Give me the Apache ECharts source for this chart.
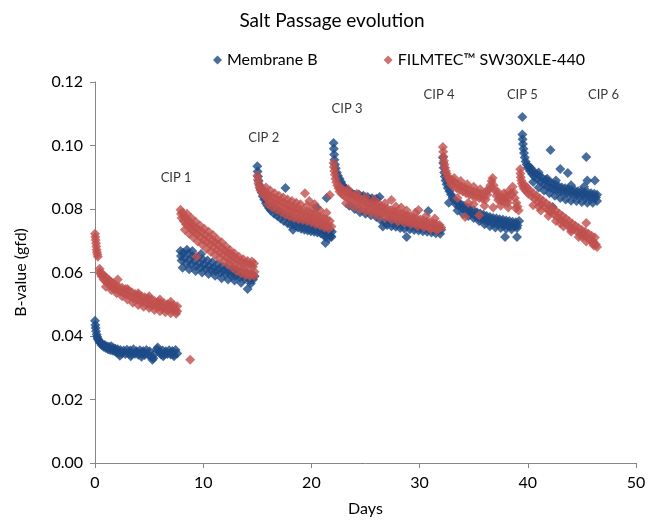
<!DOCTYPE html>
<html>
<head>
<meta charset="utf-8">
<script src="https://cdn.jsdelivr.net/npm/echarts@6/dist/echarts.min.js"></script>
<style>html,body{margin:0;padding:0;background:#fff}#c{width:664px;height:527px}</style>
</head>
<body>
<div id="c"></div>
<script>
const seriesNames = ['Membrane B', 'FILMTEC™ SW30XLE-440'];
const xTicks = [0, 10, 20, 30, 40, 50];
const yTicks = [0, 0.02, 0.04, 0.06, 0.08, 0.10, 0.12];

// Membrane B, one array per run between cleanings: [day, B-value]
const blueRun1 = [[0,0.0448],[0.03,0.0435],[0.06,0.0425],[0.1,0.0415],[0.15,0.0405],[0.2,0.0398],[0.25,0.0392],[0.3,0.0388],[0.4,0.0382],[0.5,0.0378],[0.6,0.0372],[0.7,0.0375],[0.8,0.0366],[0.9,0.0372],[1.0,0.0362],[1.1,0.0368],[1.2,0.0358],[1.3,0.0366],[1.4,0.0356],[1.5,0.0368],[1.6,0.0354],[1.7,0.0362],[1.8,0.0352],[1.9,0.036],[2.0,0.0348],[2.1,0.0358],[2.2,0.0346],[2.35,0.0356],[2.5,0.0345],[2.65,0.0354],[2.8,0.0343],[2.95,0.0357],[3.1,0.0345],[3.25,0.0354],[3.4,0.0342],[3.55,0.0358],[3.7,0.0344],[3.85,0.0352],[4.0,0.0341],[4.15,0.0355],[4.3,0.0343],[4.45,0.0353],[4.6,0.034],[4.75,0.0356],[4.9,0.0342],[5.05,0.0352],[5.2,0.0335],[5.3,0.0325],[5.4,0.033],[5.55,0.0345],[5.7,0.0358],[5.8,0.0364],[5.95,0.0352],[6.1,0.0342],[6.25,0.0354],[6.4,0.0341],[6.55,0.0352],[6.7,0.0343],[6.85,0.0355],[7.0,0.0342],[7.15,0.0353],[7.3,0.0341],[7.45,0.0356],[7.6,0.0345],[2.3,0.0338],[3.3,0.0336],[4.3,0.0335],[6.3,0.0336],[7.3,0.0336]];
const blueRun2 = [[7.9,0.0668],[7.95,0.0652],[8.0,0.0638],[8.15,0.0662],[8.3,0.0645],[8.45,0.0628],[8.6,0.066],[8.75,0.064],[8.9,0.0625],[9.05,0.0652],[9.2,0.0636],[9.35,0.062],[9.5,0.0648],[9.65,0.063],[9.8,0.0616],[9.95,0.0642],[10.1,0.0625],[10.25,0.0612],[10.4,0.0638],[10.55,0.062],[10.7,0.0608],[10.85,0.0632],[11.0,0.0615],[11.15,0.0604],[11.3,0.0626],[11.45,0.061],[11.6,0.06],[11.75,0.062],[11.9,0.0606],[12.05,0.0596],[12.2,0.0615],[12.35,0.0602],[12.5,0.0592],[12.65,0.061],[12.8,0.0598],[12.95,0.0588],[13.1,0.0606],[13.25,0.0594],[13.4,0.0585],[13.55,0.0602],[13.7,0.059],[13.85,0.058],[14.0,0.0598],[14.1,0.0548],[14.15,0.0586],[14.3,0.0575],[14.45,0.0592],[14.6,0.0578],[14.75,0.0588],[8.1,0.0615],[8.7,0.061],[9.3,0.0605],[9.9,0.060],[10.5,0.0595],[11.1,0.059],[11.7,0.0582],[12.3,0.0578],[12.9,0.0575],[13.5,0.0568],[14.4,0.0565],[8.5,0.0672],[9.0,0.0668],[9.8,0.0658]];
const blueRun3 = [[15.0,0.0935],[15.03,0.0918],[15.07,0.0902],[15.12,0.0888],[15.2,0.0875],[15.3,0.0862],[15.4,0.0852],[15.5,0.084],[15.65,0.083],[15.8,0.0818],[15.95,0.081],[16.1,0.0802],[16.25,0.0795],[16.4,0.0808],[16.55,0.0785],[16.7,0.0798],[16.85,0.0778],[17.0,0.0792],[17.15,0.077],[17.3,0.0786],[17.45,0.0762],[17.6,0.0866],[17.65,0.0778],[17.8,0.0755],[17.95,0.0772],[18.1,0.075],[18.25,0.0765],[18.3,0.0735],[18.45,0.0748],[18.6,0.0762],[18.75,0.0742],[18.9,0.0758],[19.05,0.0738],[19.2,0.0755],[19.35,0.0735],[19.5,0.0752],[19.65,0.0732],[19.8,0.075],[19.95,0.073],[20.1,0.0748],[20.25,0.0728],[20.4,0.0745],[20.5,0.0805],[20.55,0.0726],[20.7,0.0742],[20.85,0.0724],[21.0,0.074],[21.1,0.072],[21.2,0.0732],[21.3,0.0693],[21.35,0.0725],[21.4,0.0835],[21.5,0.0738],[21.6,0.072],[21.7,0.0732],[21.8,0.0715],[21.9,0.0728],[21.3,0.0712],[21.6,0.0708],[21.85,0.0712]];
const blueRun4 = [[22.05,0.1008],[22.07,0.099],[22.1,0.0972],[22.13,0.0955],[22.18,0.094],[22.25,0.0928],[22.35,0.0915],[22.45,0.0905],[22.6,0.0895],[22.75,0.0885],[22.9,0.0875],[23.05,0.0868],[23.2,0.0862],[23.4,0.0856],[23.6,0.0852],[23.8,0.0848],[24.0,0.0845],[24.2,0.0842],[24.4,0.0846],[24.6,0.0838],[24.8,0.0842],[25.0,0.0835],[25.2,0.0838],[25.4,0.083],[25.6,0.0834],[25.8,0.0828],[26.0,0.0832],[26.3,0.0838],[23.5,0.081],[24.0,0.080],[24.5,0.079],[25.0,0.0785],[25.5,0.078],[26.0,0.0775],[26.4,0.0765],[26.6,0.0745],[26.8,0.0758],[27.0,0.075],[27.2,0.0762],[27.4,0.0746],[27.6,0.0758],[27.8,0.0744],[28.0,0.0755],[28.2,0.074],[28.4,0.0752],[28.6,0.0738],[28.8,0.0712],[28.9,0.0748],[29.1,0.0736],[29.3,0.075],[29.5,0.0734],[29.7,0.0746],[29.9,0.0732],[30.1,0.0745],[30.3,0.073],[30.5,0.0742],[30.8,0.0794],[30.7,0.0728],[30.9,0.074],[31.1,0.0726],[31.3,0.0738],[31.5,0.0724],[31.7,0.0736],[31.9,0.0722],[32.0,0.0735]];
const blueRun5 = [[32.15,0.0962],[32.18,0.0945],[32.22,0.093],[32.27,0.0915],[32.33,0.0902],[32.4,0.089],[32.5,0.0878],[32.6,0.0866],[32.7,0.082],[32.75,0.0856],[32.9,0.0846],[33.05,0.0836],[33.2,0.0828],[33.35,0.0815],[33.5,0.0822],[33.65,0.0808],[33.8,0.0816],[33.95,0.0802],[34.1,0.081],[34.25,0.0796],[34.4,0.0805],[34.55,0.079],[34.7,0.08],[34.85,0.0785],[35.0,0.0795],[35.15,0.0778],[35.3,0.079],[35.45,0.0772],[35.6,0.0786],[35.75,0.0768],[35.9,0.0782],[36.05,0.0764],[36.2,0.0778],[36.35,0.0762],[36.5,0.0775],[36.65,0.0758],[36.8,0.0772],[36.95,0.0756],[37.1,0.077],[37.25,0.0754],[37.4,0.0768],[37.55,0.0752],[37.7,0.0766],[37.85,0.075],[37.9,0.0712],[38.0,0.0764],[38.15,0.0748],[38.3,0.0762],[38.45,0.0746],[38.6,0.076],[38.75,0.0745],[38.9,0.0758],[39.0,0.0712],[39.05,0.0748],[39.2,0.0762],[33.5,0.0795],[34.0,0.0785],[34.5,0.0778],[35.0,0.0772],[35.5,0.0762],[36.0,0.0752],[36.5,0.0746],[37.0,0.0742],[37.5,0.074],[38.0,0.0738],[38.5,0.0736],[39.0,0.074]];
const blueRun6 = [[39.5,0.109],[39.5,0.1035],[39.52,0.102],[39.55,0.1005],[39.6,0.099],[39.65,0.0976],[39.72,0.0962],[39.8,0.095],[39.9,0.094],[40.0,0.093],[40.1,0.0935],[40.2,0.092],[40.3,0.0928],[40.4,0.091],[40.5,0.0918],[40.6,0.0902],[40.75,0.0912],[40.9,0.0894],[41.05,0.0905],[41.2,0.0886],[41.35,0.0898],[41.5,0.0878],[41.65,0.0892],[41.8,0.0872],[41.95,0.0886],[42.1,0.0986],[42.1,0.0866],[42.25,0.088],[42.3,0.0806],[42.4,0.0862],[42.55,0.0876],[42.7,0.0858],[42.85,0.0872],[43.0,0.0926],[43.0,0.0855],[43.15,0.0868],[43.3,0.0852],[43.45,0.0865],[43.6,0.085],[43.7,0.0913],[43.75,0.0862],[43.9,0.0848],[44.05,0.086],[44.2,0.0845],[44.35,0.0858],[44.5,0.0843],[44.65,0.0856],[44.8,0.0842],[44.95,0.0855],[45.1,0.0724],[45.1,0.084],[45.25,0.0853],[45.4,0.0964],[45.4,0.0838],[45.5,0.089],[45.55,0.0852],[45.7,0.0836],[45.85,0.085],[46.0,0.0835],[46.15,0.0848],[46.2,0.089],[46.3,0.0836],[46.4,0.0845],[40.5,0.0885],[41.0,0.0868],[41.5,0.0858],[42.0,0.085],[42.5,0.0842],[43.0,0.0835],[43.5,0.083],[44.0,0.0826],[44.5,0.0825],[45.0,0.0822],[45.5,0.082],[46.0,0.082],[46.4,0.0825],[41.0,0.0915],[41.8,0.0895],[42.6,0.089],[44.0,0.0875],[45.2,0.087]];

// FILMTEC SW30XLE-440, one array per run: [day, B-value]
const redRun1 = [[0,0.0722],[0.03,0.0712],[0.06,0.0702],[0.09,0.0692],[0.12,0.0682],[0.15,0.0672],[0.18,0.0664],[0.22,0.0657],[0.26,0.065],[0.42,0.0612],[0.46,0.0602],[0.5,0.0596],[0.6,0.0588],[0.7,0.0595],[0.8,0.0578],[0.9,0.0588],[1.0,0.0572],[1.1,0.0582],[1.2,0.0565],[1.3,0.0576],[1.4,0.0558],[1.5,0.057],[1.6,0.0553],[1.7,0.0566],[1.8,0.0548],[1.9,0.056],[2.0,0.0545],[2.1,0.0578],[2.2,0.0555],[2.35,0.054],[2.5,0.0552],[2.65,0.0535],[2.8,0.0548],[2.95,0.053],[3.1,0.0543],[3.25,0.0526],[3.4,0.0538],[3.55,0.0518],[3.7,0.0532],[3.85,0.0515],[4.0,0.0528],[4.15,0.051],[4.3,0.0525],[4.45,0.0507],[4.6,0.0522],[4.75,0.0503],[4.9,0.0518],[5.05,0.0498],[5.2,0.0515],[5.35,0.0497],[5.5,0.051],[5.65,0.0494],[5.8,0.0508],[5.95,0.0492],[6.1,0.0505],[6.25,0.0488],[6.4,0.0503],[6.55,0.0486],[6.7,0.05],[6.85,0.0484],[7.0,0.0498],[7.15,0.0482],[7.3,0.0496],[7.45,0.048],[7.6,0.0494],[7.6,0.0478],[8.8,0.0325],[1.0,0.0555],[1.5,0.0545],[2.0,0.0535],[2.5,0.0525],[3.0,0.0515],[3.5,0.0505],[4.0,0.0498],[4.5,0.0492],[5.0,0.0488],[5.5,0.0482],[6.0,0.0478],[6.5,0.0475],[7.0,0.0472],[7.5,0.047],[3.0,0.0548],[4.0,0.0535],[5.0,0.0525],[6.0,0.0515],[7.0,0.0508]];
const redRun2 = [[7.9,0.0798],[7.95,0.0785],[8.0,0.0772],[8.1,0.0788],[8.2,0.0762],[8.3,0.0775],[8.4,0.0752],[8.5,0.077],[8.6,0.0748],[8.7,0.076],[8.8,0.074],[8.9,0.0755],[9.0,0.0732],[9.1,0.0748],[9.2,0.0726],[9.3,0.074],[9.4,0.065],[9.45,0.072],[9.6,0.0735],[9.75,0.0712],[9.9,0.0728],[10.05,0.0702],[10.2,0.0718],[10.35,0.0695],[10.5,0.0712],[10.65,0.0688],[10.8,0.0702],[10.95,0.068],[11.1,0.0695],[11.25,0.0672],[11.4,0.0688],[11.55,0.0664],[11.7,0.0678],[11.85,0.0656],[12.0,0.067],[12.15,0.0648],[12.3,0.0662],[12.45,0.064],[12.55,0.0658],[12.7,0.0635],[12.85,0.065],[13.0,0.0626],[13.15,0.0642],[13.3,0.062],[13.45,0.0636],[13.6,0.0612],[13.75,0.063],[13.9,0.0605],[14.05,0.0625],[14.2,0.0598],[14.35,0.0622],[14.5,0.0595],[14.6,0.0618],[14.7,0.0628],[14.75,0.0602],[8.3,0.0735],[8.7,0.0722],[9.1,0.071],[9.5,0.0698],[9.9,0.0688],[10.3,0.0675],[10.7,0.0665],[11.1,0.0655],[11.5,0.0645],[11.9,0.0635],[12.3,0.0625],[12.7,0.0615],[13.1,0.0605],[13.5,0.0598],[13.9,0.0592],[14.3,0.0588],[14.7,0.059],[8.5,0.0785],[8.9,0.0772],[9.3,0.076],[9.7,0.0748],[10.1,0.0738],[10.5,0.0728],[10.9,0.0718],[11.3,0.0705],[11.7,0.0695],[12.1,0.0682],[12.5,0.067],[12.9,0.066],[13.3,0.065],[13.7,0.0642],[14.1,0.0636],[14.5,0.0635]];
const redRun3 = [[15.0,0.0905],[15.05,0.0892],[15.1,0.088],[15.2,0.0868],[15.3,0.0858],[15.4,0.0866],[15.5,0.0848],[15.6,0.0858],[15.7,0.084],[15.8,0.0852],[15.9,0.0835],[16.0,0.0845],[16.1,0.0826],[16.25,0.084],[16.4,0.082],[16.55,0.0835],[16.7,0.0815],[16.85,0.083],[17.0,0.081],[17.15,0.0825],[17.3,0.0805],[17.45,0.082],[17.6,0.08],[17.75,0.0815],[17.9,0.0796],[18.05,0.081],[18.2,0.0792],[18.35,0.0806],[18.5,0.0788],[18.65,0.0802],[18.8,0.0784],[18.95,0.0798],[19.1,0.078],[19.25,0.0795],[19.4,0.085],[19.45,0.0776],[19.6,0.0792],[19.75,0.0772],[19.8,0.0825],[19.9,0.0788],[20.05,0.0768],[20.2,0.0784],[20.3,0.0815],[20.35,0.0764],[20.5,0.078],[20.65,0.076],[20.8,0.0776],[20.95,0.0756],[21.1,0.0772],[21.25,0.0752],[21.4,0.0768],[21.55,0.0748],[21.7,0.0844],[21.7,0.0762],[21.85,0.0745],[15.8,0.0868],[16.2,0.0858],[16.6,0.085],[17.0,0.0842],[17.4,0.0836],[17.8,0.083],[18.2,0.0825],[18.6,0.082],[19.0,0.0815],[19.6,0.081],[20.2,0.0802],[20.8,0.0795],[21.4,0.0788],[16.0,0.0815],[16.4,0.0805],[16.8,0.0798],[17.2,0.079],[17.6,0.0782],[18.0,0.0776],[18.4,0.0772],[18.8,0.0768],[19.2,0.0765],[19.6,0.0762],[20.0,0.0758],[20.4,0.0752],[20.8,0.0748],[21.2,0.0742],[21.6,0.0738]];
const redRun4 = [[22.05,0.0945],[22.08,0.0932],[22.12,0.092],[22.17,0.0908],[22.23,0.0895],[22.3,0.0884],[22.4,0.0874],[22.5,0.0865],[22.6,0.0855],[22.7,0.0868],[22.8,0.0848],[22.9,0.086],[23.0,0.0842],[23.15,0.0855],[23.3,0.0835],[23.45,0.085],[23.6,0.083],[23.75,0.0845],[23.9,0.0824],[24.05,0.084],[24.2,0.082],[24.35,0.0835],[24.5,0.0815],[24.65,0.083],[24.8,0.081],[24.95,0.0825],[25.1,0.0805],[25.25,0.082],[25.4,0.0802],[25.55,0.0816],[25.7,0.0798],[25.85,0.0812],[26.0,0.0795],[26.15,0.081],[26.2,0.0818],[26.3,0.0792],[26.45,0.0806],[26.6,0.0788],[26.75,0.0803],[26.9,0.0785],[27.05,0.08],[27.2,0.0782],[27.35,0.0796],[27.4,0.0828],[27.5,0.0778],[27.65,0.0793],[27.8,0.0775],[27.95,0.079],[28.1,0.0772],[28.25,0.0786],[28.3,0.0805],[28.4,0.077],[28.55,0.0783],[28.7,0.0766],[28.85,0.078],[29.0,0.0763],[29.15,0.0776],[29.3,0.076],[29.45,0.0773],[29.6,0.0757],[29.75,0.077],[29.9,0.0797],[29.9,0.0754],[30.05,0.0767],[30.2,0.0751],[30.35,0.0764],[30.5,0.0748],[30.65,0.0761],[30.8,0.0745],[30.95,0.0758],[31.1,0.0742],[31.25,0.0756],[31.4,0.074],[31.55,0.0753],[31.7,0.0738],[31.85,0.075],[32.0,0.0742],[23.2,0.0818],[23.8,0.0808],[24.4,0.08],[25.0,0.0792],[25.6,0.0785],[26.2,0.0778],[26.8,0.0772],[27.4,0.0766],[28.0,0.076],[28.6,0.0756],[29.2,0.0752],[29.8,0.0746],[30.4,0.0742],[31.0,0.0736],[31.6,0.0732],[23.4,0.0862],[24.2,0.0848],[25.0,0.0838],[25.8,0.083],[26.8,0.0818],[27.8,0.0808],[28.8,0.0795],[29.6,0.0788],[30.6,0.0778],[31.4,0.077]];
const redRun5 = [[32.15,0.0995],[32.18,0.098],[32.21,0.0965],[32.25,0.0952],[32.3,0.094],[32.36,0.093],[32.43,0.092],[32.5,0.0912],[32.6,0.0903],[32.7,0.0895],[32.8,0.0888],[32.9,0.0878],[33.0,0.0892],[33.1,0.0872],[33.25,0.0884],[33.4,0.0866],[33.55,0.0878],[33.7,0.086],[33.85,0.0872],[34.0,0.0855],[34.15,0.0868],[34.2,0.0775],[34.3,0.085],[34.45,0.0862],[34.6,0.0846],[34.75,0.0858],[34.9,0.0842],[35.05,0.0855],[35.2,0.0838],[35.35,0.0852],[35.5,0.078],[35.5,0.0835],[35.65,0.0848],[35.8,0.0832],[35.95,0.0845],[36.1,0.083],[36.25,0.0845],[36.4,0.086],[36.55,0.0875],[36.65,0.0888],[36.75,0.0898],[36.85,0.0875],[36.95,0.0858],[37.1,0.0842],[37.25,0.0828],[37.4,0.084],[37.55,0.0825],[37.7,0.0838],[37.85,0.0822],[38.0,0.0836],[38.15,0.082],[38.3,0.0835],[38.45,0.085],[38.6,0.087],[38.7,0.0852],[38.8,0.0835],[38.95,0.082],[39.05,0.0808],[39.15,0.0795],[33.5,0.0835],[34.5,0.082],[35.0,0.0815],[36.0,0.081],[36.8,0.0805],[37.5,0.081],[38.2,0.0805],[38.9,0.0802],[33.2,0.0898],[33.8,0.0888],[34.4,0.0878],[35.0,0.087],[35.6,0.0862],[36.2,0.0858],[37.2,0.0855],[37.8,0.085],[38.2,0.0855]];
const redRun6 = [[39.3,0.0925],[39.32,0.0912],[39.35,0.09],[39.4,0.089],[39.45,0.088],[39.55,0.0872],[39.65,0.0864],[39.75,0.0875],[39.85,0.0856],[39.95,0.0866],[40.05,0.0848],[40.2,0.0858],[40.35,0.084],[40.5,0.085],[40.65,0.0832],[40.8,0.0842],[40.95,0.0824],[41.1,0.0834],[41.25,0.0815],[41.4,0.0826],[41.55,0.0806],[41.7,0.0818],[41.85,0.0798],[42.0,0.081],[42.15,0.079],[42.3,0.0802],[42.45,0.0782],[42.6,0.0794],[42.75,0.0774],[42.9,0.0786],[43.05,0.0766],[43.2,0.0778],[43.35,0.0758],[43.5,0.077],[43.65,0.075],[43.8,0.0762],[43.95,0.0743],[44.1,0.0754],[44.25,0.0736],[44.4,0.0747],[44.55,0.0729],[44.7,0.074],[44.85,0.0722],[45.0,0.0734],[45.15,0.0716],[45.3,0.0728],[45.4,0.0756],[45.45,0.071],[45.6,0.0722],[45.75,0.0704],[45.9,0.0716],[46.05,0.0698],[46.2,0.071],[46.3,0.0688],[46.4,0.068],[41.0,0.0808],[42.0,0.0792],[43.0,0.0755],[44.0,0.0735],[45.0,0.0712],[46.0,0.0692],[40.5,0.0812],[41.2,0.0795],[41.9,0.0778],[42.6,0.0762],[43.3,0.0745],[44.0,0.0728],[44.7,0.0712],[45.4,0.0698],[46.1,0.0685]];

const cipLabels = ['CIP 1', 'CIP 2', 'CIP 3', 'CIP 4', 'CIP 5', 'CIP 6'];
const cipX = [7.5, 15.6, 23.3, 31.8, 39.5, 47.0];
const cipY = [0.0898, 0.1024, 0.1115, 0.1159, 0.1159, 0.1159];

const membraneB = [].concat(blueRun1, blueRun2, blueRun3, blueRun4, blueRun5, blueRun6);
const filmtec = [].concat(redRun1, redRun2, redRun3, redRun4, redRun5, redRun6);

const FONT = 'Lato';
const chart = echarts.init(document.getElementById('c'), null, { renderer: 'canvas' });
chart.setOption({
  backgroundColor: '#ffffff',
  animation: false,
  textStyle: { fontFamily: FONT },
  title: {
    text: 'Salt Passage evolution',
    left: 'center', top: 6,
    textStyle: { fontFamily: FONT, fontSize: 19, fontWeight: 'normal', color: '#000' }
  },
  legend: {
    data: seriesNames,
    left: 208, top: 47,
    itemGap: 66, itemWidth: 9, itemHeight: 9,
    icon: 'diamond',
    textStyle: { fontFamily: FONT, fontSize: 16, color: '#000' }
  },
  grid: { left: 95, right: 28, top: 82, bottom: 64, containLabel: false },
  xAxis: {
    type: 'value', min: xTicks[0], max: xTicks[xTicks.length - 1], interval: 10,
    name: 'Days', nameLocation: 'middle', nameGap: 38,
    nameTextStyle: { fontFamily: FONT, fontSize: 16, color: '#000' },
    axisLine: { lineStyle: { color: '#868686' } },
    axisTick: { show: true, length: 5, lineStyle: { color: '#868686' } },
    axisLabel: { fontFamily: FONT, fontSize: 16, color: '#000', margin: 12 },
    splitLine: { show: false }
  },
  yAxis: {
    type: 'value', min: yTicks[0], max: yTicks[yTicks.length - 1], interval: 0.02,
    name: 'B-value (gfd)', nameLocation: 'middle', nameGap: 66, nameRotate: 90,
    nameTextStyle: { fontFamily: FONT, fontSize: 16, color: '#000' },
    axisLine: { show: true, lineStyle: { color: '#868686' } },
    axisTick: { show: true, length: 5, lineStyle: { color: '#868686' } },
    axisLabel: { fontFamily: FONT, fontSize: 16, color: '#000', margin: 12, formatter: v => v.toFixed(2) },
    splitLine: { show: false }
  },
  series: [
    {
      name: seriesNames[0], type: 'scatter', symbol: 'diamond', symbolSize: 10,
      itemStyle: { color: '#1B4A86' }, data: membraneB, z: 2
    },
    {
      name: seriesNames[1], type: 'scatter', symbol: 'diamond', symbolSize: 10,
      itemStyle: { color: '#C0504D' }, data: filmtec, z: 3
    },
    {
      name: 'CIP', type: 'scatter', symbolSize: 0, silent: true, z: 4,
      data: cipX.map((x, i) => [x, cipY[i], cipLabels[i]]),
      label: {
        show: true, position: 'inside', formatter: p => p.data[2],
        fontFamily: FONT, fontSize: 13, color: '#000'
      }
    }
  ]
});
</script>
</body>
</html>
